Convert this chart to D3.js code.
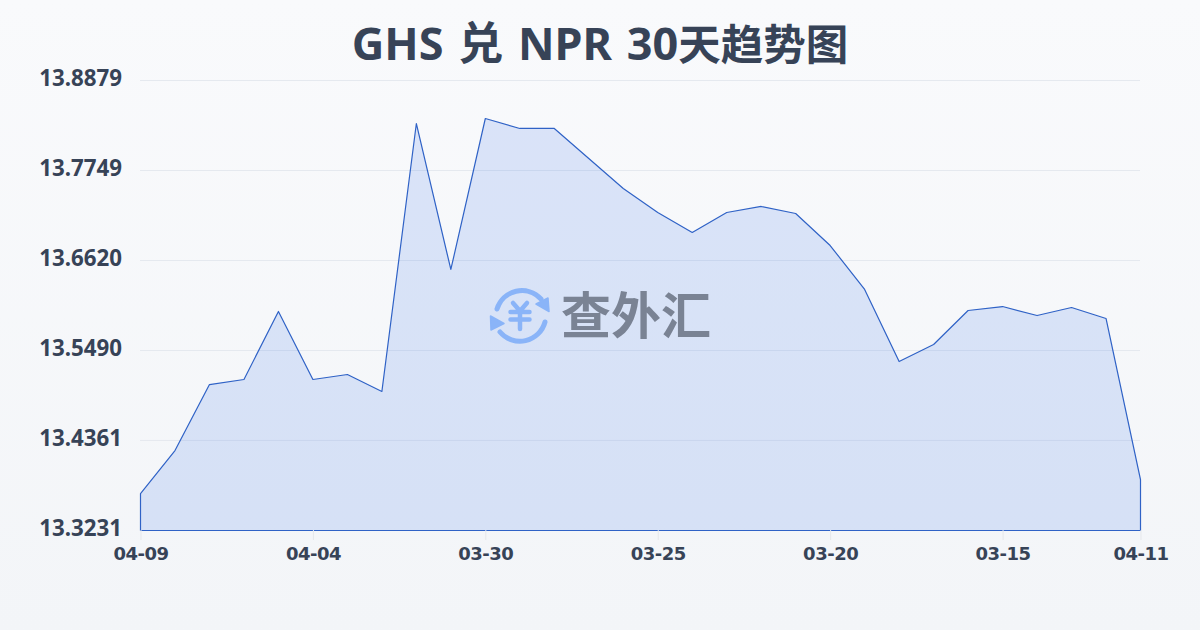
<!DOCTYPE html>
<html><head><meta charset="utf-8">
<style>html,body{margin:0;padding:0;width:1200px;height:630px;overflow:hidden}svg{display:block}</style>
<script src="https://cdn.jsdelivr.net/npm/d3@7/dist/d3.min.js"></script></head>
<body><svg id="c" width="1200" height="630"></svg>
<script>
const titleLatin = "GHS 兑 NPR 30";
const titleCjk = "天趋势图";
const dates = ["04-09","04-08","04-07","04-06","04-05","04-04","04-03","04-02","04-01","03-31","03-30","03-29","03-28","03-27","03-26","03-25","03-24","03-23","03-22","03-21","03-20","03-19","03-18","03-17","03-16","03-15","03-14","03-13","03-12","04-11"];
const rates = [13.3695,13.4235,13.5063,13.5126,13.5980,13.5126,13.5189,13.4976,13.8339,13.6507,13.8402,13.8277,13.8277,13.7900,13.7523,13.7222,13.6971,13.7222,13.7298,13.7210,13.6808,13.6256,13.5352,13.5565,13.5992,13.6042,13.5929,13.6030,13.5892,13.3871];
const yTicks = [13.3231,13.4361,13.5490,13.6620,13.7749,13.8879];
const xTicks = ["04-09","04-04","03-30","03-25","03-20","03-15","04-11"];
const brand = "查外汇";

const font = '"Noto Sans","Noto Sans CJK SC",sans-serif';
const ink = "#374357";
const svg = d3.select("#c");
const defs = svg.append("defs");
const bg = defs.append("linearGradient").attr("id","bg").attr("x1",0).attr("y1",0).attr("x2",0).attr("y2",1);
bg.append("stop").attr("offset",0).attr("stop-color","#f9fafc");
bg.append("stop").attr("offset",1).attr("stop-color","#f3f5f8");
svg.append("rect").attr("width",1200).attr("height",630).attr("fill","url(#bg)");

const x = d3.scalePoint().domain(dates).range([140.5,1140.5]);
const y = d3.scaleLinear().domain([13.3231,13.8879]).range([530.5,80.5]);

svg.append("g").selectAll("line").data(yTicks).join("line")
  .attr("x1",140).attr("x2",1140).attr("y1",d=>y(d)).attr("y2",d=>y(d))
  .attr("stroke","#e5e9ef").attr("stroke-width",1);

const area = d3.area().x(d=>x(d.date)).y0(y(yTicks[0])).y1(d=>y(d.rate));
svg.append("path").datum(dates.map((date,i)=>({date,rate:rates[i]})))
  .attr("d",d=>area(d)+"Z").attr("fill","#2563eb").attr("fill-opacity",.14)
  .attr("stroke","#2f62c6").attr("stroke-width",1.2).attr("stroke-linejoin","round");

const ax = svg.append("g").attr("transform","translate(0,530)")
  .call(d3.axisBottom(x).tickValues(xTicks).tickSize(10).tickPadding(7.4));
ax.select(".domain").remove();
ax.selectAll("line").attr("stroke","#e5e7eb");
ax.selectAll("text").attr("font-family",'"DejaVu Sans",sans-serif').attr("font-size",18).attr("letter-spacing",-0.5).attr("font-weight",700).attr("fill",ink);

const ay = svg.append("g").attr("transform","translate(140,0)")
  .call(d3.axisLeft(y).tickValues(yTicks).tickFormat(d3.format(".4f")).tickSize(0).tickPadding(18));
ay.select(".domain").remove();
ay.selectAll("text").attr("font-family",font).attr("font-size",22.3).attr("font-weight",700).attr("fill",ink).attr("dy","0.23em");

const title = svg.append("text").attr("x",600).attr("y",60).attr("text-anchor","middle")
  .attr("font-family",font).attr("font-size",45).attr("font-weight",700).attr("fill",ink).attr("word-spacing",3);
title.append("tspan").text(titleLatin);
title.append("tspan").attr("font-size",42.5).text(titleCjk);

// watermark
const blue = "#8ab4f8";
const logo = svg.append("g").attr("transform","translate(520,315)").attr("fill","none")
  .attr("stroke",blue).attr("stroke-width",5).attr("stroke-linecap","round").attr("stroke-linejoin","round");
logo.append("path").attr("d","M-23,-6A26,26 0 0 1 21,-16");
logo.append("path").attr("d","M25,7A26,26 0 0 1 -20,17");
logo.append("path").attr("d","M28,-17L29,-3.5L16,-11Z").attr("fill",blue).attr("stroke-width",1.5);
logo.append("path").attr("d","M-29.5,1L-29,15L-16,8.5Z").attr("fill",blue).attr("stroke-width",1.5);
logo.append("path").attr("d","M-7,-12L0,-4L7,-12M-9.5,-3H9.5M-9.5,4.5H9.5M0,-4V14").attr("stroke-width",4.5);
svg.append("text").attr("x",636).attr("y",334).attr("text-anchor","middle")
  .attr("font-family",'"Noto Sans CJK SC",sans-serif').attr("font-size",50).attr("font-weight",700)
  .attr("fill","#7a8394").text(brand);
</script></body></html>
